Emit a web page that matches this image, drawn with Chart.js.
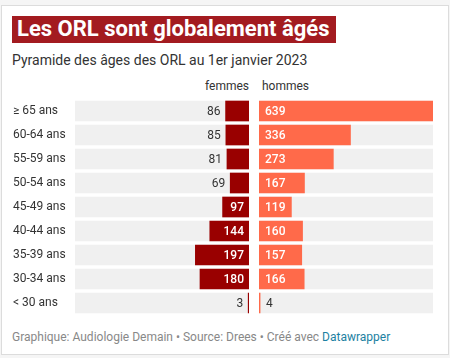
<!DOCTYPE html>
<html>
<head>
<meta charset="utf-8">
<script src="https://cdn.jsdelivr.net/npm/chart.js@4"></script>
<style>
  body { margin: 0; background: #f5f5f5; font-family: Roboto, sans-serif; }
  #card { position: absolute; left: 1px; top: 5px; width: 446px; height: 348px; background: #fff; border: 1px solid #dcdcdc; }
  #title { position: absolute; left: 12px; top: 16px; height: 27px; line-height: 28px; padding: 0 6px 0 5px; background: #a31b20; color: #fff; font: bold 22px Roboto; }
  #sub { position: absolute; left: 12px; top: 52px; font: 14px Roboto; color: #333; }
  .head { position: absolute; top: 79px; font: 12px Roboto; color: #333; }
  #foot { position: absolute; left: 12px; top: 330px; font: 12px Roboto; color: #888; }
  #foot a { color: #1d81a2; text-decoration: none; }
  .box { position: absolute; top: 99px; height: 216px; }
</style>
</head>
<body>
<div id="card"></div>
<div id="title">Les ORL sont globalement âgés</div>
<div id="sub">Pyramide des âges des ORL au 1er janvier 2023</div>
<div class="head" style="right:201px">femmes</div>
<div class="head" style="left:262px">hommes</div>
<div class="box" style="left:0;width:250px"><canvas id="femmesChart"></canvas></div>
<div class="box" style="left:254px;width:190px"><canvas id="hommesChart"></canvas></div>
<div id="foot">Graphique: Audiologie Demain • Source: Drees • Créé avec <a>Datawrapper</a></div>
<script>
var ages = ["≥ 65 ans", "60-64 ans", "55-59 ans", "50-54 ans", "45-49 ans", "40-44 ans", "35-39 ans", "30-34 ans", "< 30 ans"];
var femmes = [86, 85, 81, 69, 97, 144, 197, 180, 3];
var hommes = [639, 336, 273, 167, 119, 160, 157, 166, 4];
var maxValue = 639;

// labels of values: inside the bar if it fits, else past its end
var valueLabels = {
  id: 'valueLabels',
  afterDatasetsDraw: function(chart) {
    var ctx = chart.ctx;
    var meta = chart.getDatasetMeta(1);
    var data = chart.data.datasets[1].data;
    var rev = chart.options.scales.x.reverse;
    ctx.save();
    ctx.textBaseline = 'middle';
    meta.data.forEach(function(bar, i) {
      var txt = String(data[i]);
      ctx.font = '12px Roboto';
      var w = ctx.measureText(txt).width;
      var len = Math.abs(bar.x - bar.base);
      var inside = len > w + 10;
      ctx.font = inside ? '500 12px Roboto' : '12px Roboto';
      ctx.fillStyle = inside ? '#fff' : '#333';
      if (rev) {
        ctx.textAlign = 'right';
        ctx.fillText(txt, inside ? bar.base - 5 : bar.x - 5, bar.y + 1);
      } else {
        ctx.textAlign = 'left';
        ctx.fillText(txt, inside ? bar.base + 6 : bar.x + 6, bar.y + 1);
      }
    });
    ctx.restore();
  }
};

function makeChart(id, values, color, left) {
  var ctx = document.getElementById(id).getContext('2d');
  return new Chart(ctx, {
    type: 'bar',
    data: {
      labels: ages,
      datasets: [{
        data: ages.map(function() { return maxValue; }),
        backgroundColor: '#f0f0f0',
        barThickness: 20,
        grouped: false,
        order: 2
      }, {
        data: values,
        backgroundColor: color,
        barThickness: 20,
        grouped: false,
        order: 1
      }]
    },
    options: {
      indexAxis: 'y',
      responsive: true,
      maintainAspectRatio: false,
      animation: false,
      layout: { padding: left ? { left: 13, right: 1 } : { left: 5, right: 11 } },
      plugins: { legend: { display: false }, tooltip: { enabled: false } },
      scales: {
        x: {
          display: false,
          min: 0,
          max: maxValue,
          reverse: left
        },
        y: {
          display: left,
          grid: { display: false },
          border: { display: false },
          ticks: {
            crossAlign: 'far',
            padding: 0,
            color: '#333',
            font: { family: 'Roboto', size: 12 }
          },
          afterFit: function(s) {
            if (!left) return;
            s.width = 62;
            s.paddingTop = 0;
            s.paddingBottom = 0;
          }
        }
      }
    },
    plugins: [valueLabels]
  });
}

makeChart('femmesChart', femmes, '#990000', true);
makeChart('hommesChart', hommes, '#ff6a4a', false);
</script>
</body>
</html>
